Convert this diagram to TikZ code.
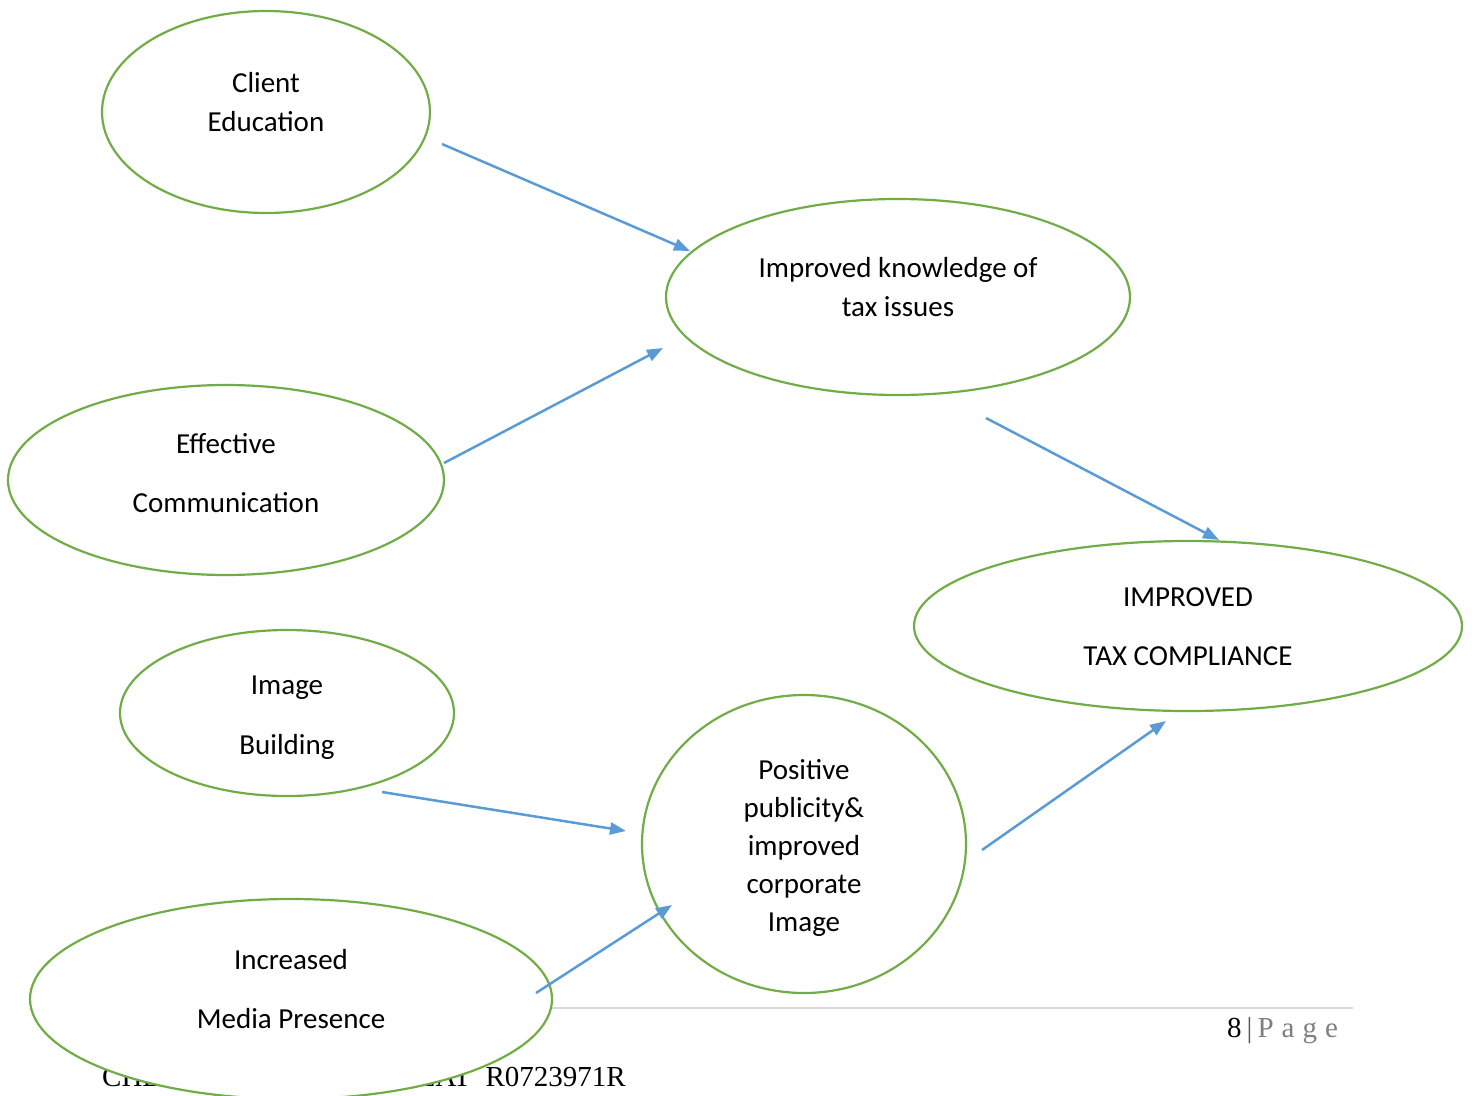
\documentclass[tikz,border=0pt]{standalone}
\usepackage{fontspec}
\setmainfont{Carlito}
\newfontfamily\footfont{Liberation Serif}
\usetikzlibrary{shapes.geometric,arrows.meta}
\definecolor{ellgreen}{HTML}{70AD47}
\definecolor{arrblue}{HTML}{5B9BD5}
\definecolor{footline}{HTML}{D9D9D9}
\definecolor{pagegray}{HTML}{7F7F7F}
\tikzset{
  bubble/.style={ellipse, draw=ellgreen, line width=2.2pt, fill=white, inner sep=0pt},
  lbl/.style={anchor=base, inner sep=0pt, font=\fontsize{29}{35}\selectfont},
  link/.style={draw=arrblue, line width=2.5pt, -{Triangle[length=16pt,width=12pt]}},
  foot/.style={inner sep=0pt, anchor=base west, font=\footfont\fontsize{29}{34}\selectfont},
}
\begin{document}
\begin{tikzpicture}[x=1pt,y=-1pt]
\useasboundingbox (0,0) rectangle (1472,1095);
% footer (behind ellipses)
\coordinate (fl1) at (100,1008);
\coordinate (fl2) at (1353,1008);
\draw[footline, line width=2pt] (fl1) -- (fl2);
\node[foot] (pg) at (1227,1037) {8\hspace{5pt}\textcolor{pagegray!70!black}{|}\hspace{5pt}\textcolor{pagegray}{P\hspace{8pt}a\hspace{8pt}g\hspace{8pt}e}};
\node[foot] (ft) at (102,1086) {CHEPKEMOI MARY KIPLAT\ \ R0723971R};

% ellipses
\node[bubble, minimum width=328pt, minimum height=202pt] (e1) at (266,112) {};
\node[bubble, minimum width=464pt, minimum height=196pt] (e2) at (898,297) {};
\node[bubble, minimum width=436pt, minimum height=190pt] (e3) at (226,480) {};
\node[bubble, minimum width=548pt, minimum height=170pt] (e4) at (1188,626) {};
\node[bubble, minimum width=334pt, minimum height=166pt] (e5) at (287,713) {};
\node[bubble, minimum width=324pt, minimum height=298pt] (e6) at (804,844) {};
\node[bubble, minimum width=522pt, minimum height=200pt] (e7) at (291,999) {};

% labels
\node[lbl] (t1a) at (266,92) {Client};
\node[lbl] (t1b) at (266,131) {Education};
\node[lbl] (t2a) at (898,277) {Improved knowledge of};
\node[lbl] (t2b) at (898,316) {tax issues};
\node[lbl] (t3a) at (226,453) {Effective};
\node[lbl] (t3b) at (226,512) {Communication};
\node[lbl] (t4a) at (1188,606) {IMPROVED};
\node[lbl] (t4b) at (1188,665) {TAX COMPLIANCE};
\node[lbl] (t5a) at (287,694) {Image};
\node[lbl] (t5b) at (287,754) {Building};
\node[lbl] (t6a) at (804,779) {Positive};
\node[lbl] (t6b) at (804,817) {publicity\&};
\node[lbl] (t6c) at (804,855) {improved};
\node[lbl] (t6d) at (804,893) {corporate};
\node[lbl] (t6e) at (804,931) {Image};
\node[lbl] (t7a) at (291,969) {Increased};
\node[lbl] (t7b) at (291,1028) {Media Presence};

% arrow end points
\coordinate (a1s) at (442,144);  \coordinate (a1e) at (690,251);
\coordinate (a2s) at (444,463);  \coordinate (a2e) at (663,348);
\coordinate (a3s) at (986,418);  \coordinate (a3e) at (1219,540);
\coordinate (a4s) at (382,792);  \coordinate (a4e) at (626,831);
\coordinate (a5s) at (536,993);  \coordinate (a5e) at (672,905);
\coordinate (a6s) at (982,850);  \coordinate (a6e) at (1166,721);

\draw[link] (a1s) -- (a1e);
\draw[link] (a2s) -- (a2e);
\draw[link] (a3s) -- (a3e);
\draw[link] (a4s) -- (a4e);
\draw[link] (a5s) -- (a5e);
\draw[link] (a6s) -- (a6e);
\end{tikzpicture}
\end{document}
